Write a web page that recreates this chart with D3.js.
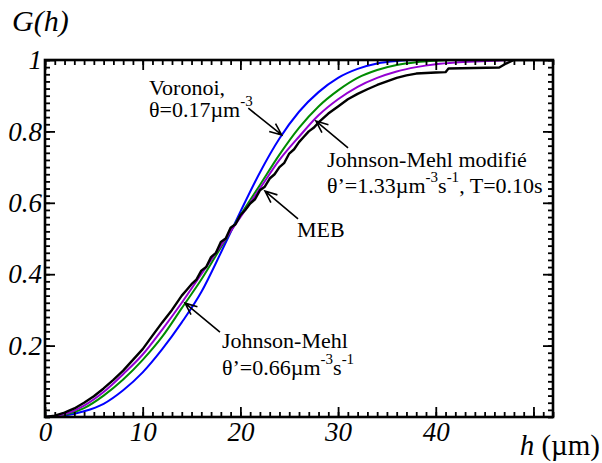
<!DOCTYPE html>
<html><head><meta charset="utf-8">
<style>
html,body{margin:0;background:#fff;font-family:"Liberation Serif","Times New Roman"}
svg, svg text, svg tspan{font-family:"Liberation Serif","Times New Roman" !important}
</style>
<script src="https://cdn.jsdelivr.net/npm/d3@7"></script>
</head><body>
<svg id="c" width="602" height="463"></svg>
<script>
// ---- data (h in µm, G(h)) ----
const hBlue = [0,2,4,6,8,10,12,14,16,18,20,22,24,26,28,30,32,34,36,38,40,52];
const gBlue = [0,0.004,0.016,0.037,0.075,0.125,0.19,0.265,0.35,0.46,0.575,0.685,0.78,0.855,0.91,0.95,0.975,0.99,0.997,1,1,1];

const hGreen = [0,2,4,6,8,10,12,14,16,18,20,22,24,26,28,30,32,34,36,38,40,42,52];
const gGreen = [0,0.006,0.025,0.06,0.105,0.16,0.225,0.305,0.385,0.475,0.565,0.65,0.735,0.81,0.87,0.915,0.95,0.972,0.986,0.994,0.998,1,1];

const hPurple = [0,2,4,6,8,10,12,14,16,18,20,22,24,26,28,30,32,34,36,38,40,42,44,46,48,52];
const gPurple = [0,0.008,0.032,0.07,0.12,0.175,0.245,0.32,0.4,0.48,0.56,0.64,0.72,0.785,0.845,0.89,0.925,0.95,0.968,0.98,0.988,0.993,0.996,0.998,1,1];

const hBlack = [0,1,2,3,4,5,6,7,8,9,10,11,12,13,14,14.5,15,15.5,16,16.5,17,17.5,18,18.5,19,19.5,20,20.5,21,21.5,22,22.5,23,23.5,24,24.5,25,25.5,26,26.5,27,27.5,28,29,30,31,32,33,34,35,36,37,38,40,41,41.3,46.5,47.2,48,52];
const gBlack = [0,0.004,0.012,0.024,0.04,0.058,0.08,0.104,0.13,0.16,0.19,0.228,0.265,0.3,0.34,0.356,0.372,0.385,0.41,0.42,0.448,0.46,0.49,0.5,0.53,0.54,0.565,0.58,0.598,0.61,0.635,0.645,0.668,0.68,0.7,0.712,0.738,0.75,0.77,0.785,0.8,0.81,0.825,0.85,0.87,0.89,0.905,0.918,0.93,0.94,0.95,0.957,0.962,0.965,0.966,0.976,0.979,0.99,1,1];

const xMajor = [0,10,20,30,40,50];
const xLabels = ["0","10","20","30","40",""];
const yMajor = [0.2,0.4,0.6,0.8,1];
const yLabels = ["0.2","0.4","0.6","0.8","1"];

// ---- layout ----
const L=45, R=553, T=60, B=417;
const svg = d3.select("#c");
const x = d3.scaleLinear().domain([0,52]).range([L,R]);
const y = d3.scaleLinear().domain([0,1]).range([B,T]);

function ff(sel){ return sel.style("font-family",`"Times New Roman"`); }

svg.append("clipPath").attr("id","plotclip").append("rect")
  .attr("x",L).attr("y",T-1).attr("width",R-L).attr("height",B-T+1);

const series = [
  {h:hBlue, g:gBlue, color:"#0000ff", w:2, curve:d3.curveMonotoneX},
  {h:hGreen, g:gGreen, color:"#008c00", w:2, curve:d3.curveMonotoneX},
  {h:hPurple, g:gPurple, color:"#9400d3", w:2, curve:d3.curveMonotoneX},
  {h:hBlack, g:gBlack, color:"#000000", w:2.4, curve:d3.curveLinear}
];
const gCurves = svg.append("g").attr("clip-path","url(#plotclip)");
series.forEach(s=>{
  const pts = s.h.map((h,i)=>[h,s.g[i]]);
  gCurves.append("path").datum(pts)
    .attr("fill","none").attr("stroke",s.color).attr("stroke-width",s.w)
    .attr("stroke-linejoin","round")
    .attr("d", d3.line().x(d=>x(d[0])).y(d=>y(d[1])).curve(s.curve));
});

// ---- axes ----
const xMinor = d3.range(0,53,1);
const yMinor = d3.range(0,1.0001,0.02);
function styleAxis(g){
  g.attr("font-family",null).attr("font-size",null);
  g.select(".domain").remove();
  g.selectAll(".tick line").attr("stroke","#000").attr("stroke-width",1.8);
  ff(g.selectAll("text")).attr("font-style","italic").attr("font-size",27).attr("fill","#000");
}
svg.append("g").attr("transform",`translate(0,${B})`)
  .call(d3.axisBottom(x).tickValues(xMinor).tickSize(-5).tickFormat("")).call(styleAxis);
svg.append("g").attr("transform",`translate(0,${B})`)
  .call(d3.axisBottom(x).tickValues(xMajor).tickSize(-10).tickPadding(5).tickFormat((d,i)=>xLabels[i])).call(styleAxis);
svg.append("g").attr("transform",`translate(0,${T})`)
  .call(d3.axisTop(x).tickValues(xMinor).tickSize(-5).tickFormat("")).call(styleAxis);
svg.append("g").attr("transform",`translate(0,${T})`)
  .call(d3.axisTop(x).tickValues(xMajor).tickSize(-10).tickFormat("")).call(styleAxis);
svg.append("g").attr("transform",`translate(${L},0)`)
  .call(d3.axisLeft(y).tickValues(yMinor).tickSize(-5).tickFormat("")).call(styleAxis);
svg.append("g").attr("transform",`translate(${L},0)`)
  .call(d3.axisLeft(y).tickValues(yMajor).tickSize(-10).tickPadding(3).tickFormat((d,i)=>yLabels[i])).call(styleAxis);
svg.append("g").attr("transform",`translate(${R},0)`)
  .call(d3.axisRight(y).tickValues(yMinor).tickSize(-5).tickFormat("")).call(styleAxis);
svg.append("g").attr("transform",`translate(${R},0)`)
  .call(d3.axisRight(y).tickValues(yMajor).tickSize(-10).tickFormat("")).call(styleAxis);

svg.append("rect").attr("x",L).attr("y",T).attr("width",R-L).attr("height",B-T)
  .attr("fill","none").attr("stroke","#000").attr("stroke-width",2.6);

// ---- axis titles ----
ff(svg.append("text")).attr("x",12).attr("y",31)
  .attr("font-style","italic").attr("font-size",30).text("G(h)");
const xt = ff(svg.append("text")).attr("x",600).attr("y",455).attr("text-anchor","end")
  .attr("font-size",29);
xt.append("tspan").attr("font-style","italic").text("h");
xt.append("tspan").text(" (µm)");

// ---- annotations ----
function txt(xp, yp){
  return ff(svg.append("text")).attr("x",xp).attr("y",yp).attr("font-size",22).attr("fill","#000");
}
function sup(t, s){ t.append("tspan").attr("font-size",15).attr("dy",-11).text(s); }
function base(t, s){ t.append("tspan").attr("font-size",22).attr("dy",11).text(s); }

txt(149,95).text("Voronoi,");
let t = txt(149,117).text("θ=0.17µm");
sup(t,"-3");

txt(327,167).text("Johnson-Mehl modifié");
t = txt(327,193).text("θ’=1.33µm");
sup(t,"-3"); base(t,"s"); sup(t,"-1"); base(t,", T=0.10s");

txt(297,237).text("MEB");

txt(222,348).text("Johnson-Mehl");
t = txt(222,375).text("θ’=0.66µm");
sup(t,"-3"); base(t,"s"); sup(t,"-1");

// arrows: [tail h, tail G, tip h, tip G]
const arrows = [
  [20.81,0.865,24.23,0.79],
  [31.02,0.754,27.74,0.829],
  [25.9,0.555,22.52,0.633],
  [17.91,0.238,14.33,0.319]
];
arrows.forEach(a=>{
  const x1=x(a[0]), y1=y(a[1]), x2=x(a[2]), y2=y(a[3]);
  const ang = Math.atan2(y2-y1, x2-x1), len=13, spread=0.4;
  const p = d3.path();
  p.moveTo(x1,y1); p.lineTo(x2,y2);
  p.moveTo(x2-len*Math.cos(ang-spread), y2-len*Math.sin(ang-spread));
  p.lineTo(x2,y2);
  p.lineTo(x2-len*Math.cos(ang+spread), y2-len*Math.sin(ang+spread));
  svg.append("path").attr("d",p.toString()).attr("fill","none")
    .attr("stroke","#000").attr("stroke-width",1.6);
});
</script>
</body></html>
